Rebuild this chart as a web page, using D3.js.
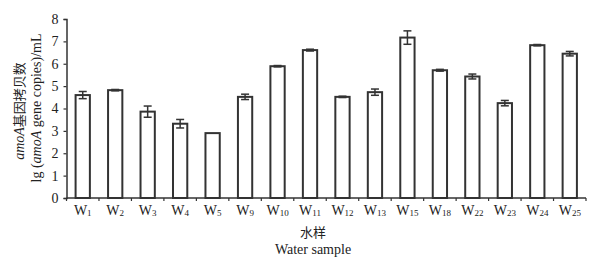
<!DOCTYPE html>
<html><head><meta charset="utf-8">
<script src="https://cdn.jsdelivr.net/npm/d3@7"></script>
<style>
body{margin:0;background:#fff;}
text{font-family:"Liberation Serif","Times New Roman",serif;fill:#222;}
.cjk{font-family:"Noto Sans CJK SC",sans-serif;}
</style></head>
<body><svg id="c" width="606" height="264"></svg>
<script>
const samples = ["1","2","3","4","5","9","10","11","12","13","15","18","22","23","24","25"];
const values  = [4.60,4.82,3.86,3.32,2.90,4.52,5.89,6.61,4.52,4.73,7.17,5.71,5.43,4.24,6.83,6.45];
const errors  = [0.16,0.03,0.25,0.19,0.00,0.12,0.03,0.04,0.03,0.14,0.30,0.04,0.11,0.12,0.03,0.10];
const yTicks  = [0,1,2,3,4,5,6,7,8];

const svg = d3.select("#c");
const L=66.5, R=586, T=19, B=198;
const x = d3.scaleBand().domain(samples).range([L,R]).paddingInner(0.56).paddingOuter(0.28);
const y = d3.scaleLinear().domain([0,8]).range([B,T]);
const col="#333";

// bars
svg.selectAll("rect.bar").data(samples).join("rect")
  .attr("x",d=>x(d)).attr("width",x.bandwidth())
  .attr("y",(d,i)=>y(values[i])).attr("height",(d,i)=>B-y(values[i]))
  .attr("fill","#fff").attr("stroke",col).attr("stroke-width",2);

// error bars
const eg = svg.append("g").attr("stroke",col).attr("stroke-width",1.5);
samples.forEach((s,i)=>{
  if(errors[i]<=0) return;
  const cx = x(s)+x.bandwidth()/2;
  const y1=y(values[i]+errors[i]), y2=y(values[i]-errors[i]);
  eg.append("line").attr("x1",cx).attr("x2",cx).attr("y1",y1).attr("y2",y2);
  eg.append("line").attr("x1",cx-4).attr("x2",cx+4).attr("y1",y1).attr("y2",y1);
  eg.append("line").attr("x1",cx-4).attr("x2",cx+4).attr("y1",y2).attr("y2",y2);
});

// y axis
const ya = svg.append("g").attr("transform",`translate(${L},0)`)
  .call(d3.axisLeft(y).tickValues(yTicks).tickSize(3).tickPadding(5).tickFormat(d3.format("d")));
ya.select(".domain").attr("stroke",col).attr("stroke-width",1.5);
ya.selectAll(".tick line").attr("stroke",col).attr("stroke-width",1.2);
ya.selectAll(".tick text").attr("font-size",14).attr("font-family","Liberation Serif").attr("fill","#222");

// x axis line and boundary ticks
svg.append("line").attr("x1",L).attr("x2",R).attr("y1",B).attr("y2",B).attr("stroke",col).attr("stroke-width",1.5);
const step = x.step();
const bounds = d3.range(samples.length+1).map(i=>x(samples[0]) - x.paddingOuter()*step + (i - 0)*step - (x.paddingInner()*step)/2 + x.paddingInner()*step/2);
svg.append("g").selectAll("line").data(d3.range(samples.length+1)).join("line")
  .attr("x1",i=>L+i*(R-L)/samples.length).attr("x2",i=>L+i*(R-L)/samples.length)
  .attr("y1",B).attr("y2",B+3).attr("stroke",col).attr("stroke-width",1.2);

// x labels
const xl = svg.append("g").selectAll("text").data(samples).join("text")
  .attr("x",d=>x(d)+x.bandwidth()/2).attr("y",215).attr("text-anchor","middle").attr("font-size",14);
xl.append("tspan").text("W");
xl.append("tspan").attr("font-size",9).attr("dy",1).text(d=>d);

// x title
svg.append("text").attr("class","cjk").attr("x",313).attr("y",237).attr("text-anchor","middle").attr("font-size",13).text("水样");
svg.append("text").attr("x",313).attr("y",254).attr("text-anchor","middle").attr("font-size",14).text("Water sample");

// y title
const t1 = svg.append("text").attr("transform","translate(24,111) rotate(-90)").attr("text-anchor","middle").attr("font-size",13);
t1.append("tspan").attr("font-style","italic").attr("font-size",14).text("amoA");
t1.append("tspan").attr("class","cjk").text("基因拷贝数");
const t2 = svg.append("text").attr("transform","translate(41,108) rotate(-90)").attr("text-anchor","middle").attr("font-size",14);
t2.append("tspan").text("lg (");
t2.append("tspan").attr("font-style","italic").text("amoA");
t2.append("tspan").text(" gene copies)/mL");
</script></body></html>
